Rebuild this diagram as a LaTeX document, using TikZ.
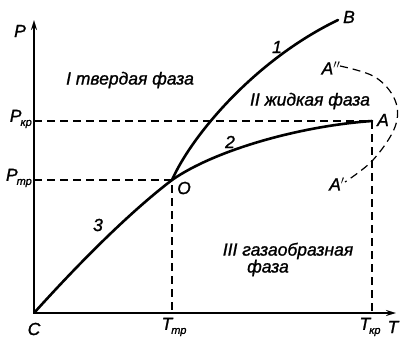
\documentclass[tikz,border=0pt]{standalone}
\usepackage{fontspec}
\setmainfont{Liberation Sans}[FakeStretch=1.0, FakeBold=1.2]
\usetikzlibrary{arrows.meta}
\begin{document}
\begin{tikzpicture}[x=1pt,y=-1pt,
  lbl/.style={font=\fontsize{17.5}{19}\selectfont\itshape, inner sep=0pt},
  axis/.style={line width=2pt},
  curve/.style={line width=2.6pt, line cap=round},
  dsh/.style={line width=1.2pt, dash pattern=on 8pt off 5pt}]
\newcommand{\lowsub}[1]{\kern-1pt\raisebox{-4pt}{\fontsize{11}{12}\selectfont #1}}
\useasboundingbox (0,0) rectangle (400,341);
% coordinates
\coordinate (C) at (34,313);
\coordinate (ytop) at (34,20);
\coordinate (xend) at (396,313);
\coordinate (O) at (172,180);
\coordinate (A) at (372,121);
\coordinate (B) at (338,20);
\coordinate (pkr) at (34,121);
\coordinate (ptr) at (34,180);
\coordinate (tkr) at (372,313);
\coordinate (ttr) at (172,313);
% dashed guide lines
\draw[dsh] (pkr) -- (A) -- (tkr);
\draw[dsh] (ptr) -- (O) -- (ttr);
% axes
\draw[axis, -{Stealth[length=10pt,width=6pt]}] (C) -- (ytop);
\draw[axis, -{Stealth[length=10pt,width=6pt]}] (C) -- (xend);
% curves
\draw[curve] (O) .. controls (192,135) and (255,60) .. (B);
\draw[curve] (O) .. controls (215,150) and (300,126) .. (A);
\draw[curve] (C) .. controls (80,262) and (130,212) .. (O);
% dashed loop A'' -> A'
\draw[dsh] plot[smooth, tension=0.6] coordinates {(340,66) (375,77) (395,100) (395,127) (373,160) (345,182)};
% labels
\node[lbl] (lP) at (20,31) {P};
\node[lbl, anchor=east] (lPkr) at (32,119) {P\lowsub{кр}};
\node[lbl, anchor=east] (lPtr) at (32,178) {P\lowsub{тр}};
\node[lbl] (lC) at (34,329) {C};
\node[lbl] (lTtr) at (174,327) {T\lowsub{тр}};
\node[lbl] (lTkr) at (370,327) {T\lowsub{кр}};
\node[lbl] (lT) at (393,327) {T};
\node[lbl] (lO) at (184,188) {O};
\node[lbl] (lB) at (349,17) {B};
\node[lbl] (lA) at (383,120) {A};
\node[lbl] (lA2) at (331,68) {A$''$};
\node[lbl] (lA1) at (337,184) {A$'$};
\node[lbl] (l1) at (277,47) {1};
\node[lbl] (l2) at (230,142) {2};
\node[lbl] (l3) at (98,225) {3};
\node[lbl] (r1) at (130,80) {I твердая фаза};
\node[lbl] (r2) at (310,101) {II жидкая фаза};
\node[lbl] (r3) at (288,251) {III газаобразная};
\node[lbl] (r3b) at (268,268) {фаза};
\end{tikzpicture}
\end{document}
